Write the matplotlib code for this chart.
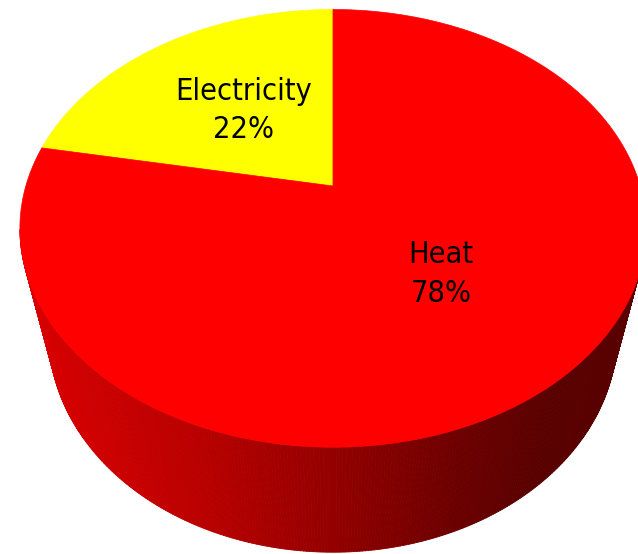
import numpy as np
import matplotlib
matplotlib.use('Agg')
import matplotlib.pyplot as plt
from matplotlib.patches import Polygon
from matplotlib.collections import PolyCollection
from matplotlib.colors import LinearSegmentedColormap

labels = ['Electricity', 'Heat']
shares = [22, 78]
top_colors = ['#ffff00', '#ff0000']
start_angle = 90.0

# simple perspective camera looking down at the disc
elev = np.radians(43.3)
dist = 3.76
focal = 1155.0
depth = 0.54
cx, cy = 333.0, 186.0


def project(x, y, z):
    zc = y * np.cos(elev) - z * np.sin(elev) + dist
    yc = y * np.sin(elev) + z * np.cos(elev)
    return cx + focal * x / zc, cy - focal * yc / zc


side_cmap = LinearSegmentedColormap.from_list(
    'side', [(0.0, '#dc0000'), (0.3, '#b80000'), (0.5, '#940000'),
             (0.7, '#6c0000'), (0.85, '#580000'), (1.0, '#5a0000')])

fig = plt.figure(figsize=(6.38, 5.54), dpi=100)
ax = fig.add_axes([0, 0, 1, 1])
ax.set_xlim(0, 638)
ax.set_ylim(554, 0)
ax.axis('off')

# side wall, drawn as thin strips coloured by horizontal position
t = np.radians(np.linspace(0, 360, 721))
tx, ty = project(np.cos(t), np.sin(t), 0 * t)
bx, by = project(np.cos(t), np.sin(t), 0 * t - depth)
quads = []
cols = []
for i in range(len(t) - 1):
    if np.sin(t[i]) > -0.2 and np.sin(t[i + 1]) > -0.2:
        continue
    quads.append([(tx[i], ty[i]), (tx[i + 1], ty[i + 1]),
                  (bx[i + 1], by[i + 1]), (bx[i], by[i])])
    xm = (tx[i] + tx[i + 1] + bx[i] + bx[i + 1]) / 4
    cols.append(side_cmap(np.clip((xm - 20) / 626, 0, 1)))
ax.add_collection(PolyCollection(quads, facecolors=cols, edgecolors=cols,
                                 linewidths=0.6))

# top face wedges
a0 = start_angle
for lab, val, col in zip(labels, shares, top_colors):
    a1 = a0 + 360 * val / sum(shares)
    ang = np.radians(np.linspace(a0, a1, 200))
    px, py = project(np.cos(ang), np.sin(ang), 0 * ang)
    ox, oy = project(0.0, 0.0, 0.0)
    pts = [(ox, oy)] + list(zip(px, py))
    ax.add_patch(Polygon(pts, closed=True, facecolor=col, edgecolor=col,
                         linewidth=0.5))
    mid = np.radians((a0 + a1) / 2)
    lx, ly = project(0.5 * np.cos(mid), 0.5 * np.sin(mid), 0.0)
    ax.text(lx + 2, ly, f'{lab}\n{val}%', ha='center', va='center',
            fontsize=22, linespacing=1.42, color='black',
            family=['Liberation Sans Narrow', 'DejaVu Sans'],
            fontstretch='condensed')
    a0 = a1

fig.savefig('out.png', dpi=100)
